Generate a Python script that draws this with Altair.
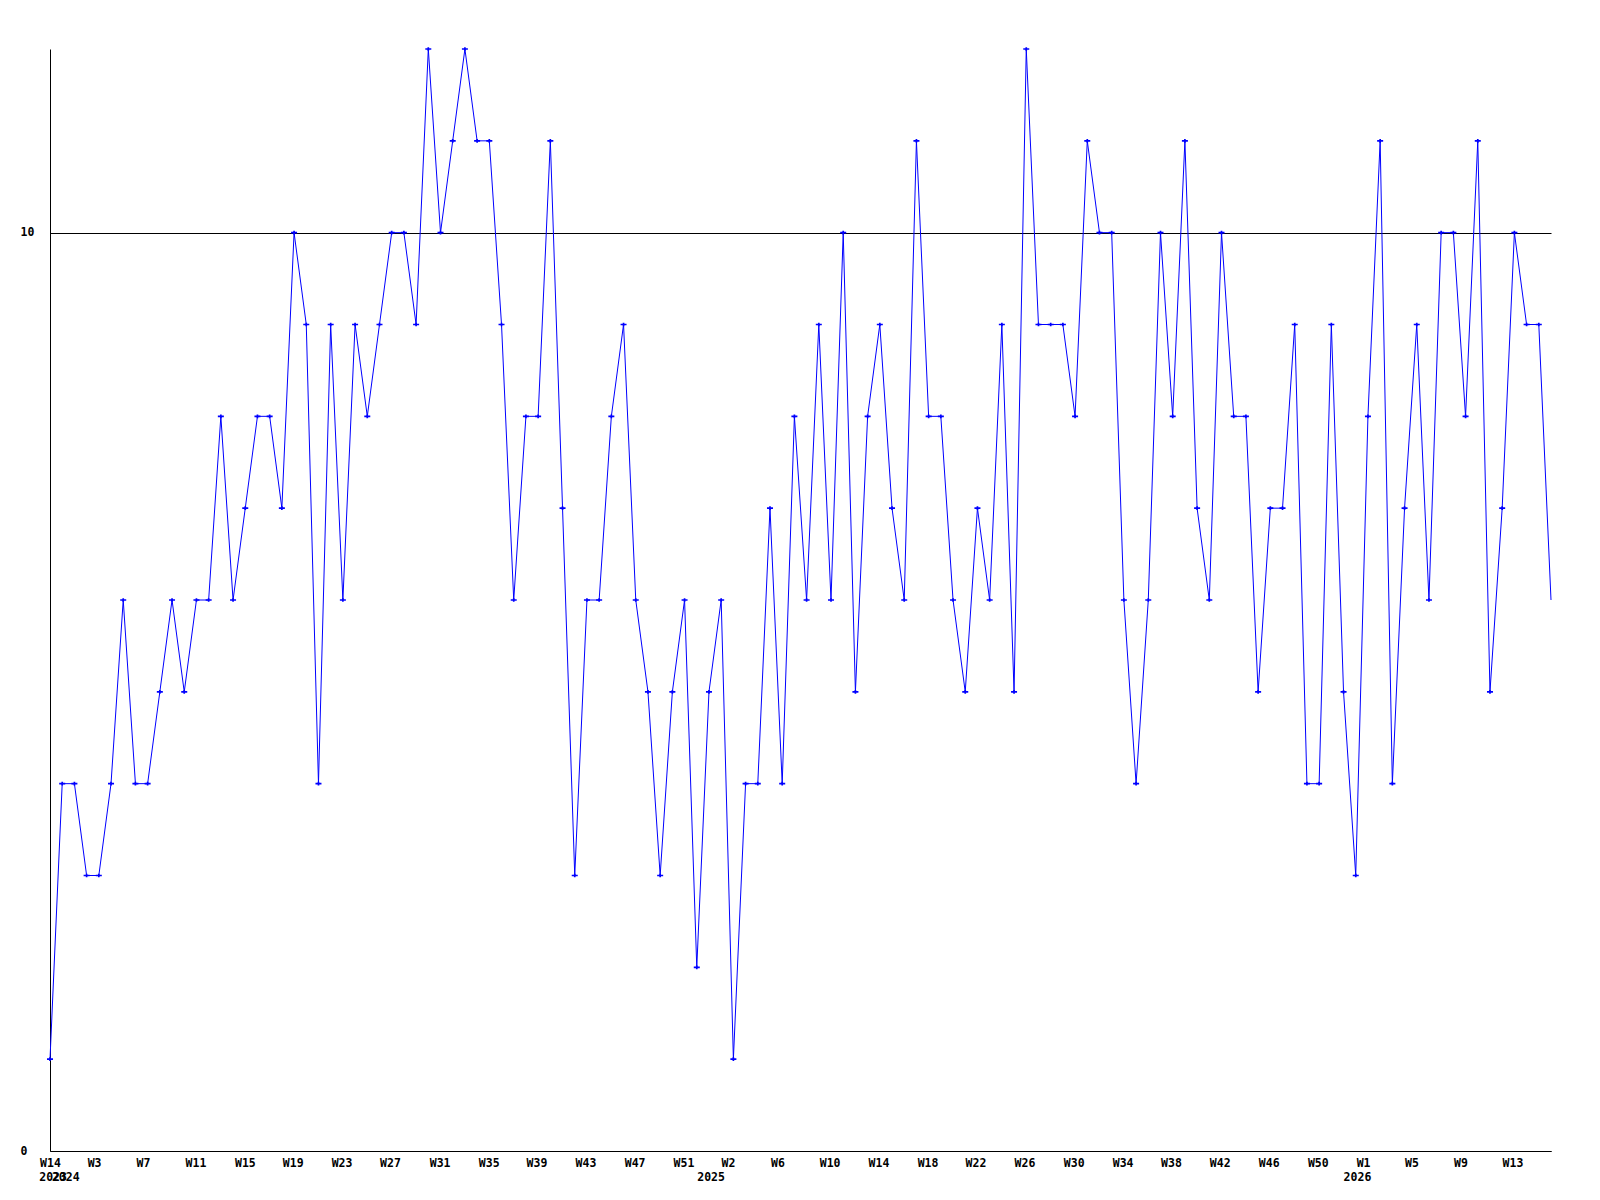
import altair as alt
import pandas as pd

# weekly values
values = [1,4,4,3,3,4,6,4,4,5,
          6,5,6,6,8,6,7,8,8,7,
          10,9,4,9,6,9,8,9,10,10,
          9,12,10,11,12,11,11,9,6,8,
          8,11,7,3,6,6,8,9,6,5,
          3,5,6,2,5,6,1,4,4,7,
          4,8,6,9,6,10,5,8,9,7,
          6,11,8,8,6,5,7,6,9,5,
          12,9,9,9,8,11,10,10,6,4,
          6,10,8,11,7,6,10,8,8,5,
          7,7,9,4,4,9,5,3,8,11,
          4,7,9,6,10,10,8,11,5,7,
          10,9,9,6]

# x tick positions (in point-index units) and their week labels
tick_pos = [0, 3.61, 7.62, 11.92, 15.97, 19.89, 23.89, 27.86, 31.93, 35.95,
            39.86, 43.88, 47.91, 51.91, 55.56, 59.61, 63.89, 67.89, 71.91,
            75.84, 79.85, 83.89, 87.90, 91.86, 95.85, 99.87, 103.89, 107.6,
            111.56, 115.58, 119.84]
tick_text = ["W14", "W3", "W7", "W11", "W15", "W19", "W23", "W27", "W31", "W35",
             "W39", "W43", "W47", "W51", "W2", "W6", "W10", "W14", "W18",
             "W22", "W26", "W30", "W34", "W38", "W42", "W46", "W50", "W1",
             "W5", "W9", "W13"]

# year labels
year_pos = [0.25, 1.29, 54.17, 107.14]
year_text = ["2023", "2024", "2025", "2026"]

W = 1501
H = 1102
FONT = "DejaVu Sans Mono"
FS = 11.5

df = pd.DataFrame({"i": list(range(len(values))), "v": values})
years = pd.DataFrame({"i": year_pos, "t": year_text})

pos_js = "[" + ",".join(str(p) for p in tick_pos) + "]"
txt_js = "[" + ",".join("'" + t + "'" for t in tick_text) + "]"
label_expr = f"{txt_js}[indexof({pos_js}, datum.value)]"

xscale = alt.Scale(domain=[0, len(values) - 1], nice=False, zero=False)
yscale = alt.Scale(domain=[0, 12], nice=False)

x_axis = alt.Axis(values=tick_pos, labelExpr=label_expr, title=None, ticks=False,
                  tickSize=0, grid=False, labelPadding=6, labelFont=FONT,
                  labelFontSize=FS, labelFontWeight="bold", labelColor="black",
                  labelOverlap=False, labelFlush=False, domainColor="black",
                  domainWidth=1)
y_axis = alt.Axis(values=[0, 10], format="d", title=None, ticks=False, tickSize=0,
                  grid=True, gridColor="black", gridOpacity=1, gridWidth=1,
                  labelAlign="left", labelPadding=30, labelFont=FONT,
                  labelFontSize=FS, labelFontWeight="bold", labelColor="black",
                  domainColor="black", domainWidth=1, labelFlush=False)

base = alt.Chart(df)

line = base.mark_line(color="#0000ff", strokeWidth=1).encode(
    x=alt.X("i:Q", scale=xscale, axis=x_axis),
    y=alt.Y("v:Q", scale=yscale, axis=y_axis),
)

pts = base.transform_filter(f"datum.i < {len(values) - 1}").mark_point(
    shape="M-1,0H1M0,-0.6V0.6", filled=False, color="#0000ff",
    strokeWidth=1.7, size=36, opacity=1
).encode(
    x=alt.X("i:Q", scale=xscale),
    y=alt.Y("v:Q", scale=yscale),
)

year_layer = alt.Chart(years).mark_text(
    font=FONT, fontSize=FS, fontWeight="bold", color="black",
    baseline="middle", align="center"
).encode(
    x=alt.X("i:Q", scale=xscale),
    y=alt.value(H + 27),
    text="t:N",
)

chart = alt.layer(line, pts, year_layer).properties(
    width=W, height=H,
    padding={"left": 42, "top": 41, "right": 30, "bottom": 40},
    autosize=alt.AutoSizeParams(type="none"),
).configure(background="white").configure_view(stroke=None)

chart.save("out.html", embed_options={"renderer": "svg", "actions": False})
